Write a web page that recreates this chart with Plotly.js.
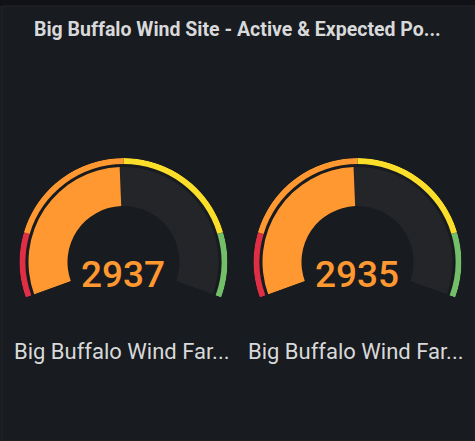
<!DOCTYPE html>
<html>
<head>
<meta charset="utf-8">
<script src="https://cdn.plot.ly/plotly-3.0.1.min.js"></script>
<style>html,body{margin:0;padding:0;background:#181b1f;}#chart{width:475px;height:441px;}</style>
</head>
<body>
<div id="chart"></div>
<script>
// ---- data ----
const panelTitle = "Big Buffalo Wind Site - Active & Expected Po...";
const gaugeLabels = ["Big Buffalo Wind Far...", "Big Buffalo Wind Far..."];
const gaugeValues = [2937, 2935];
const gaugeMin = 0;
const gaugeMax = 6000;
const thresholdSteps = [0, 1000, 3000, 5000, 6000];
const thresholdColors = ["#e02f44", "#ff9830", "#fade2a", "#73bf69"];

// ---- style / geometry ----
const W = 475, H = 441;
const START_DEG = 200, SPAN_DEG = 220;         // arc from 200deg clockwise to -20deg
const degPerUnit = SPAN_DEG / (gaugeMax - gaugeMin);
const R_MAX = 104;                               // radial axis range
const FILL_IN = 56, FILL_OUT = 95, BAND_IN = 98, BAND_OUT = 104;
const centersX = [123.5, 357.5], centerY = 262;

function colorFor(v) {
  for (let i = thresholdSteps.length - 2; i >= 0; i--) if (v >= thresholdSteps[i]) return thresholdColors[i];
  return thresholdColors[0];
}

const traces = [];
const layout = {
  width: W, height: H,
  margin: {l: 0, r: 0, t: 0, b: 0},
  paper_bgcolor: "#181b1f", plot_bgcolor: "#181b1f",
  showlegend: false,
  font: {family: "Roboto, 'Open Sans', sans-serif", color: "#d8d9da"},
  annotations: [], shapes: []
};

gaugeValues.forEach((v, i) => {
  const pid = i === 0 ? "polar" : "polar" + (i + 1);
  const sub = i === 0 ? "polar" : "polar" + (i + 1);
  const cx = centersX[i];
  const x0 = (cx - R_MAX) / W, x1 = (cx + R_MAX) / W;
  const yTop = centerY - R_MAX, yBot = centerY + R_MAX * Math.sin(20 * Math.PI / 180);
  layout[pid] = {
    domain: {x: [x0, x1], y: [1 - yBot / H, 1 - yTop / H]},
    sector: [-20, 200],
    hole: 0,
    bgcolor: "rgba(0,0,0,0)",
    radialaxis: {visible: false, range: [0, R_MAX], showgrid: false},
    angularaxis: {visible: false, rotation: START_DEG, direction: "clockwise", thetaunit: "degrees", showgrid: false}
  };
  // threshold band
  const bT = [], bW = [];
  for (let k = 0; k < thresholdColors.length; k++) {
    const a = thresholdSteps[k] - gaugeMin, b = thresholdSteps[k + 1] - gaugeMin;
    bT.push((a + b) / 2 * degPerUnit); bW.push((b - a) * degPerUnit);
  }
  traces.push({
    type: "barpolar", subplot: sub,
    r: thresholdColors.map(() => BAND_OUT - BAND_IN), base: BAND_IN,
    theta: bT, width: bW,
    marker: {color: thresholdColors, line: {width: 0}},
    hoverinfo: "skip"
  });
  // unfilled background
  traces.push({
    type: "barpolar", subplot: sub,
    r: [FILL_OUT - FILL_IN], base: FILL_IN,
    theta: [((v - gaugeMin) + (gaugeMax - gaugeMin)) / 2 * degPerUnit],
    width: [(gaugeMax - v) * degPerUnit],
    marker: {color: "#232529", line: {width: 0}},
    hoverinfo: "skip"
  });
  // value fill
  traces.push({
    type: "barpolar", subplot: sub,
    r: [FILL_OUT - FILL_IN], base: FILL_IN,
    theta: [(v - gaugeMin) / 2 * degPerUnit],
    width: [(v - gaugeMin) * degPerUnit],
    marker: {color: colorFor(v), line: {width: 0}},
    hoverinfo: "skip"
  });
  // value text
  layout.annotations.push({
    xref: "paper", yref: "paper", x: (cx - 1) / W, y: 1 - 274 / H,
    xanchor: "center", yanchor: "middle", showarrow: false,
    text: String(v),
    font: {family: "Roboto, sans-serif", size: 37, color: colorFor(v), weight: 500}
  });
  // label
  layout.annotations.push({
    xref: "paper", yref: "paper", x: (cx - 1.5) / W, y: 1 - 351 / H,
    xanchor: "center", yanchor: "middle", showarrow: false,
    text: gaugeLabels[i],
    font: {family: "Roboto, sans-serif", size: 22, color: "#d8d9da"}
  });
});

layout.annotations.push({
  xref: "paper", yref: "paper", x: 237.5 / W, y: 1 - 30 / H,
  xanchor: "center", yanchor: "middle", showarrow: false,
  text: panelTitle,
  font: {family: "Roboto, sans-serif", size: 19.5, color: "#d8d9da", weight: "bold"}
});

layout.shapes.push({type: "rect", xref: "paper", yref: "paper", x0: 0, x1: 1, y0: 1 - 6 / H, y1: 1,
  fillcolor: "#111217", line: {width: 0}, layer: "below"});
layout.shapes.push({type: "rect", xref: "paper", yref: "paper", x0: 2 / W, x1: 1, y0: 0, y1: 1 - 6 / H,
  fillcolor: "rgba(0,0,0,0)", line: {width: 1, color: "#222429"}, layer: "below"});

Plotly.newPlot("chart", traces, layout, {displayModeBar: false, staticPlot: true});
</script>
</body>
</html>
